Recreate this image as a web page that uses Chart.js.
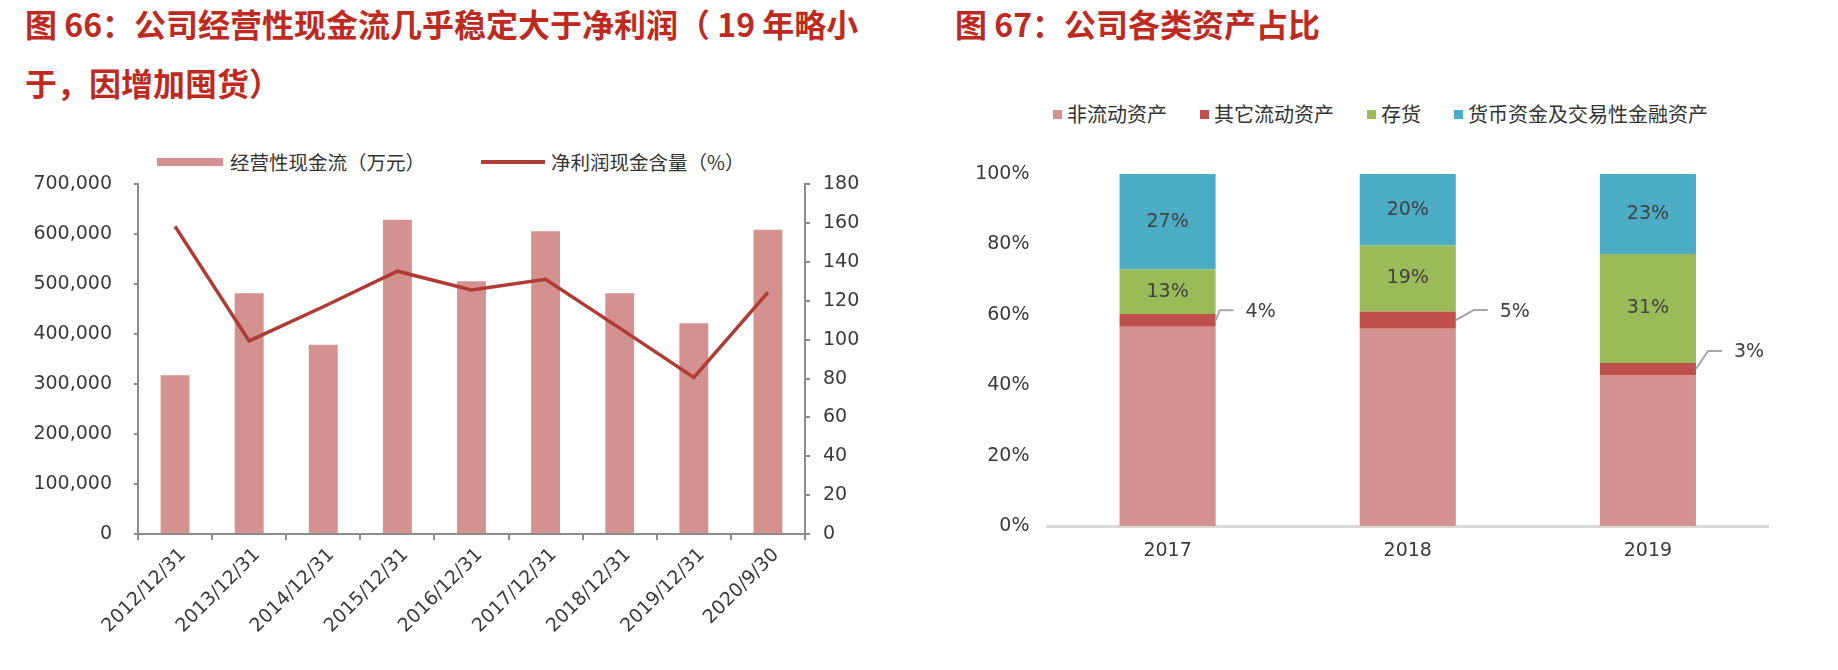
<!DOCTYPE html>
<html>
<head>
<meta charset="utf-8">
<script src="https://cdn.jsdelivr.net/npm/chart.js@4.4.1/dist/chart.umd.min.js"></script>
<style>
  body { margin: 0; width: 1838px; height: 670px; background: #fff; position: relative; overflow: hidden; font-family: "Noto Sans CJK SC", sans-serif; }
  .title { position: absolute; top: -6px; color: #be2a1f; font-weight: bold; font-size: 32px; line-height: 59px; white-space: nowrap; }
  .legend { position: absolute; display: flex; align-items: center; height: 24px; line-height: 24px; color: #333; white-space: nowrap; }
  .legend .item { display: flex; align-items: center; }
  .legend .swatch { display: inline-block; }
  .box { position: absolute; }
</style>
</head>
<body>
<div class="title" style="left:25px">图 66：公司经营性现金流几乎稳定大于净利润（ 19 年略小<br>于，因增加囤货）</div>
<div class="title" style="left:955px">图 67：公司各类资产占比</div>

<div class="legend" id="cashLegend" style="left:157px;top:150px;font-size:19.5px"></div>
<div class="legend" id="assetLegend" style="left:1053px;top:102px;font-size:20px"></div>

<div class="box" style="left:0;top:151px;width:906px;height:519px"><canvas id="cashChart"></canvas></div>
<div class="box" style="left:920px;top:143.5px;width:918px;height:526.5px"><canvas id="assetChart"></canvas></div>

<script>
const cashCategories = ["2012/12/31", "2013/12/31", "2014/12/31", "2015/12/31", "2016/12/31", "2017/12/31", "2018/12/31", "2019/12/31", "2020/9/30"];
const opCashFlow = [318000, 482000, 379000, 629000, 506000, 606000, 482000, 422000, 609000];
const cashRatio = [158.4, 99.4, 117, 135.3, 125.6, 131.1, 106, 80.6, 124.4];
const cashSeriesNames = ["经营性现金流（万元）", "净利润现金含量（%）"];

const assetYears = ["2017", "2018", "2019"];
const nonCurrent = [56.7, 56.1, 43.0];
const otherCurrent = [3.6, 4.9, 3.4];
const inventory = [12.6, 18.7, 30.9];
const cashAssets = [27.1, 20.3, 22.7];
const assetSeriesNames = ["非流动资产", "其它流动资产", "存货", "货币资金及交易性金融资产"];

const BAR_PINK = "#d39190";
const LINE_RED = "#b03a34";
const AXIS_GREY = "#8c8c8c";
const ASSET_COLORS = [BAR_PINK, "#c0504d", "#9bbb59", "#4bacc6"];

Chart.defaults.font.family = '"DejaVu Sans", "Noto Sans CJK SC", sans-serif';
Chart.defaults.color = "#3a3a3a";
Chart.defaults.animation = false;

function makeLegend(el, items) {
  el.innerHTML = items
    .map(
      (item, i) => `
      <span class="item" style="margin-left:${i === 0 ? 0 : item.gap}px">
        <span class="swatch" style="width:${item.w}px;height:${item.h}px;background:${item.color};margin-right:${item.space}px"></span>
        <span>${item.label}</span>
      </span>`
    )
    .join("");
}

makeLegend(document.getElementById("cashLegend"), [
  { label: cashSeriesNames[0], color: BAR_PINK, w: 66, h: 8, space: 7, gap: 0 },
  { label: cashSeriesNames[1], color: LINE_RED, w: 64, h: 4, space: 6, gap: 56 }
]);

makeLegend(
  document.getElementById("assetLegend"),
  assetSeriesNames.map((label, i) => ({ label, color: ASSET_COLORS[i], w: 9, h: 9, space: 5, gap: 33 }))
);

const greyGrid = { drawOnChartArea: false, color: AXIS_GREY, lineWidth: 2 };
const greyBorder = { color: AXIS_GREY, width: 2 };

new Chart(document.getElementById("cashChart"), {
  data: {
    labels: cashCategories,
    datasets: [
      {
        type: "line",
        label: cashSeriesNames[1],
        data: cashRatio,
        yAxisID: "yRatio",
        borderColor: LINE_RED,
        borderWidth: 3.5,
        pointRadius: 0,
        tension: 0,
        order: 0
      },
      {
        type: "bar",
        label: cashSeriesNames[0],
        data: opCashFlow,
        yAxisID: "yCash",
        backgroundColor: BAR_PINK,
        barPercentage: 0.39,
        categoryPercentage: 1,
        order: 1
      }
    ]
  },
  options: {
    responsive: true,
    maintainAspectRatio: false,
    layout: { padding: { top: 30, left: 0, right: 0, bottom: 0 } },
    plugins: { legend: { display: false }, tooltip: { enabled: false } },
    scales: {
      x: {
        offset: true,
        grid: { ...greyGrid, offset: true, tickLength: 6 },
        border: greyBorder,
        ticks: { minRotation: 45, maxRotation: 45, font: { size: 19 }, padding: 4, labelOffset: 8 },
        afterFit: (s) => { s.height = 136; }
      },
      yCash: {
        position: "left",
        min: 0,
        max: 700000,
        grid: { ...greyGrid, tickLength: 4 },
        border: greyBorder,
        ticks: { stepSize: 100000, font: { size: 19 }, padding: 22, callback: (v) => v.toLocaleString("en-US") },
        afterFit: (s) => { s.width = 138; }
      },
      yRatio: {
        position: "right",
        min: 0,
        max: 180,
        grid: { ...greyGrid, tickLength: 5 },
        border: greyBorder,
        ticks: { stepSize: 20, font: { size: 19 }, padding: 13 },
        afterFit: (s) => { s.width = 101; }
      }
    }
  }
});

// labels inside the upper segments, and the small leader-line label for the thin red one
const segmentLabels = {
  id: "segmentLabels",
  afterDatasetsDraw(chart, args, opts) {
    const ctx = chart.ctx;
    ctx.save();
    ctx.font = '19px "DejaVu Sans"';
    ctx.fillStyle = "#404040";
    ctx.textBaseline = "middle";
    chart.data.datasets.forEach((ds, di) => {
      if (!ds.labelMode) return;
      const meta = chart.getDatasetMeta(di);
      meta.data.forEach((bar, i) => {
        const text = `${Math.round(ds.data[i])}%`;
        const midY = (bar.y + bar.base) / 2;
        if (ds.labelMode === "inside") {
          ctx.textAlign = "center";
          ctx.fillText(text, bar.x, midY);
          return;
        }
        const right = bar.x + bar.width / 2;
        const ex = right + opts.leaderDx[i];
        const ey = midY - opts.leaderDy[i];
        ctx.strokeStyle = "#a6a6a6";
        ctx.lineWidth = 2;
        ctx.beginPath();
        ctx.moveTo(right, midY);
        ctx.lineTo(ex, ey);
        ctx.lineTo(ex + 14, ey);
        ctx.stroke();
        ctx.textAlign = "left";
        ctx.fillText(text, ex + 26, ey + 1.5);
      });
    });
    ctx.restore();
  }
};

new Chart(document.getElementById("assetChart"), {
  type: "bar",
  data: {
    labels: assetYears,
    datasets: [
      { label: assetSeriesNames[0], data: nonCurrent, backgroundColor: ASSET_COLORS[0] },
      { label: assetSeriesNames[1], data: otherCurrent, backgroundColor: ASSET_COLORS[1], labelMode: "leader" },
      { label: assetSeriesNames[2], data: inventory, backgroundColor: ASSET_COLORS[2], labelMode: "inside" },
      { label: assetSeriesNames[3], data: cashAssets, backgroundColor: ASSET_COLORS[3], labelMode: "inside" }
    ]
  },
  options: {
    responsive: true,
    maintainAspectRatio: false,
    layout: { padding: { top: 30, left: 0, right: 70, bottom: 0 } },
    datasets: { bar: { barPercentage: 0.4, categoryPercentage: 1 } },
    plugins: {
      legend: { display: false },
      tooltip: { enabled: false },
      segmentLabels: { leaderDx: [4, 18, 12], leaderDy: [10, 10, 18] }
    },
    scales: {
      x: {
        stacked: true,
        grid: { drawOnChartArea: false, drawTicks: false },
        border: { color: "#d9d9d9", width: 3 },
        ticks: { font: { size: 19 }, padding: 13 },
        afterFit: (s) => { s.height = 144; }
      },
      y: {
        stacked: true,
        min: 0,
        max: 100,
        grid: { drawOnChartArea: false, drawTicks: false },
        border: { display: false },
        ticks: { stepSize: 20, font: { size: 19 }, padding: 18, callback: (v) => `${v}%` },
        afterFit: (s) => { s.width = 127.5; }
      }
    }
  },
  plugins: [segmentLabels]
});
</script>
</body>
</html>
